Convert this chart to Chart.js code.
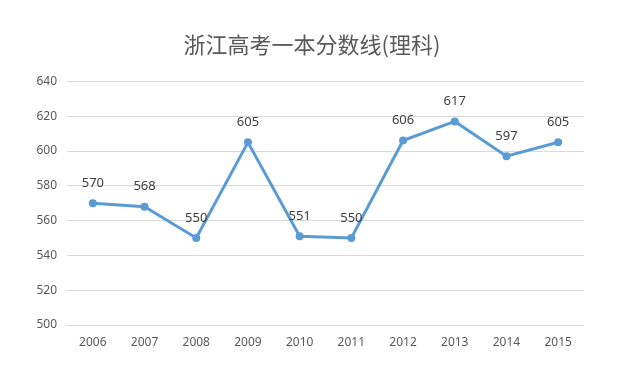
<!DOCTYPE html>
<html>
<head>
<meta charset="utf-8">
<script src="https://cdn.jsdelivr.net/npm/chart.js@4/dist/chart.umd.min.js"></script>
<style>
	html, body { margin: 0; padding: 0; background: #fff; }
	#wrap { width: 624px; height: 368px; }
</style>
</head>
<body>
<div id="wrap"><canvas id="myChart" width="624" height="368"></canvas></div>
<script>
const years = ["2006", "2007", "2008", "2009", "2010", "2011", "2012", "2013", "2014", "2015"];
const scores = [570, 568, 550, 605, 551, 550, 606, 617, 597, 605];
const yMin = 500;
const yMax = 640;
const yStep = 20;
const titleText = "浙江高考一本分数线(理科)";

// value labels above each point
const pointLabels = {
	id: "pointLabels",
	afterDatasetsDraw(chart){
		let ctx = chart.ctx;
		let meta = chart.getDatasetMeta(0);
		ctx.save();
		ctx.font = "13px 'Noto Sans'";
		ctx.fillStyle = "#404040";
		ctx.textAlign = "center";
		ctx.textBaseline = "middle";
		for(let i in meta.data){
			let pt = meta.data[i];
			ctx.fillText(String(scores[i]), pt.x, pt.y - 20);
		}
		ctx.restore();
	}
};

let ctx = document.getElementById("myChart");
let chart = new Chart(ctx, {
	type: "line",
	data: {
		labels: years,
		datasets: [{
			label: "score",
			data: scores,
			borderColor: "#5b9bd5",
			backgroundColor: "#5b9bd5",
			borderWidth: 3,
			lineTension: 0,
			pointRadius: 4,
			pointBorderWidth: 0,
			pointBackgroundColor: "#5b9bd5",
			fill: false
		}]
	},
	options: {
		animation: false,
		responsive: false,
		layout: { padding: 0 },
		plugins: {
			legend: { display: false },
			tooltip: { enabled: false },
			title: {
				display: true,
				text: titleText,
				color: "#595959",
				font: { family: "'Noto Sans CJK SC'", size: 22, weight: "normal", lineHeight: 1.2 },
				padding: { top: 31, bottom: 24 }
			}
		},
		scales: {
			x: {
				offset: true,
				grid: { display: false, drawTicks: false },
				border: { display: false },
				ticks: {
					color: "#595959",
					font: { family: "'Noto Sans'", size: 12 },
					padding: 10,
					maxRotation: 0
				},
				afterFit(axis){ axis.height = 43; }
			},
			y: {
				min: yMin,
				max: yMax,
				grid: { color: "#d9d9d9", lineWidth: 1, drawTicks: false },
				border: { display: false },
				ticks: {
					stepSize: yStep,
					color: "#595959",
					font: { family: "'Noto Sans'", size: 12 },
					padding: 10
				},
				afterFit(axis){ axis.width = 67; }
			},
			// empty right axis, only keeps space on the right
			yRight: {
				position: "right",
				min: yMin,
				max: yMax,
				grid: { display: false, drawTicks: false },
				border: { display: false },
				ticks: { display: false },
				afterFit(axis){ axis.width = 40; }
			}
		}
	},
	plugins: [pointLabels]
});
</script>
</body>
</html>
